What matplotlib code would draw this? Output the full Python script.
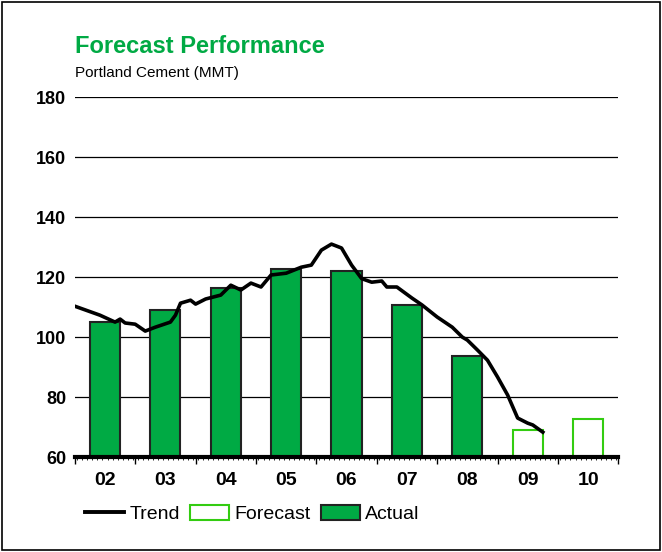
import matplotlib.pyplot as plt
from matplotlib.lines import Line2D
from matplotlib.patches import Patch, Rectangle

plt.rcParams['font.family'] = ['Liberation Sans', 'DejaVu Sans']

years = ["02", "03", "04", "05", "06", "07", "08", "09", "10"]
actual = [105, 109, 116.3, 122.7, 122, 110.7, 93.7, None, None]
forecast = [None, None, None, None, None, None, None, 69, 72.7]

# trend: months counted from Jan 2002
trend_month = [0, 5, 8, 9, 10, 12, 14, 16, 19, 20, 21, 23, 24, 26, 29, 31, 33, 35, 37, 39,
               42, 45, 47, 49, 51, 53, 55, 57, 59, 61, 62, 64, 67, 69, 72, 75, 77, 78, 80,
               82, 84, 86, 88, 90, 91, 93]
trend_value = [110.3, 107.3, 105, 106, 104.7, 104.3, 102, 103.3, 105, 107.3, 111.3, 112.3,
               111, 112.7, 114, 117.3, 115.7, 118, 116.7, 120.7, 121.3, 123.3, 124, 129,
               131, 129.7, 124, 119.5, 118.3, 118.7, 116.7, 116.7, 113, 110.7, 106.7, 103.3,
               100, 99, 95.7, 92.3, 86.7, 80.7, 73, 71.3, 70.7, 68.3]

green = "#00aa44"
light_green = "#33cc11"

fig = plt.figure(figsize=(6.62, 5.52), dpi=100)
fig.patches.append(Rectangle((0.003, 0.004), 0.994, 0.992, transform=fig.transFigure,
                             fill=False, edgecolor="black", linewidth=1.2))
ax = fig.add_axes([0.113, 0.172, 0.821, 0.652])

x = list(range(len(years)))
for i in x:
    if actual[i] is not None:
        ax.bar(i, actual[i] - 60, bottom=60, width=0.5, color=green,
               edgecolor="#222222", linewidth=1.5, zorder=2)
    if forecast[i] is not None:
        ax.bar(i, forecast[i] - 60, bottom=60, width=0.5, color="white",
               edgecolor=light_green, linewidth=1.5, zorder=2)

tx = [-0.5 + m / 12 for m in trend_month]
ax.plot(tx, trend_value, color="black", linewidth=2.6, zorder=3)

ax.set_ylim(60, 180)
ax.set_xlim(-0.5, 8.5)
ax.set_yticks(range(60, 181, 20))
ax.set_yticklabels([str(v) for v in range(60, 181, 20)], fontsize=13, fontweight="bold")
ax.tick_params(axis="y", length=0, pad=6)
ax.grid(axis="y", color="black", linewidth=0.9)
ax.set_axisbelow(True)

ax.set_xticks([i - 0.5 for i in range(10)])
ax.set_xticklabels([])
ax.set_xticks([i + 0.5 / 12 + k / 12 - 0.5 for i in range(9) for k in range(12)], minor=True)
ax.tick_params(axis="x", which="major", length=5, width=1, direction="out")
ax.tick_params(axis="x", which="minor", length=2, width=0.6, direction="out")
for i, y in enumerate(years):
    ax.text(i, -0.042, y, transform=ax.get_xaxis_transform(), ha="center", va="top",
            fontsize=14, fontweight="bold")

for s in ["left", "right", "top"]:
    ax.spines[s].set_visible(False)
ax.spines["bottom"].set_linewidth(3)

fig.text(0.113, 0.915, "Forecast Performance", color=green, fontsize=17,
         fontweight="bold", ha="left", va="center")
fig.text(0.113, 0.867, "Portland Cement (MMT)", fontsize=11,
         family=["Liberation Sans Narrow", "Liberation Sans"], ha="left", va="center")

handles = [Line2D([], [], color="black", linewidth=2.8),
           Patch(facecolor="white", edgecolor=light_green, linewidth=1.5),
           Patch(facecolor=green, edgecolor="#222222", linewidth=1.5)]
fig.legend(handles, ["Trend", "Forecast", "Actual"], loc="center left",
           bbox_to_anchor=(0.102, 0.069), ncol=3, frameon=False,
           prop={"family": ["Liberation Sans Narrow", "Liberation Sans"], "size": 14},
           handlelength=2.0, handleheight=0.8, handletextpad=0.3, columnspacing=0.5)

fig.savefig("out.png", dpi=100)
